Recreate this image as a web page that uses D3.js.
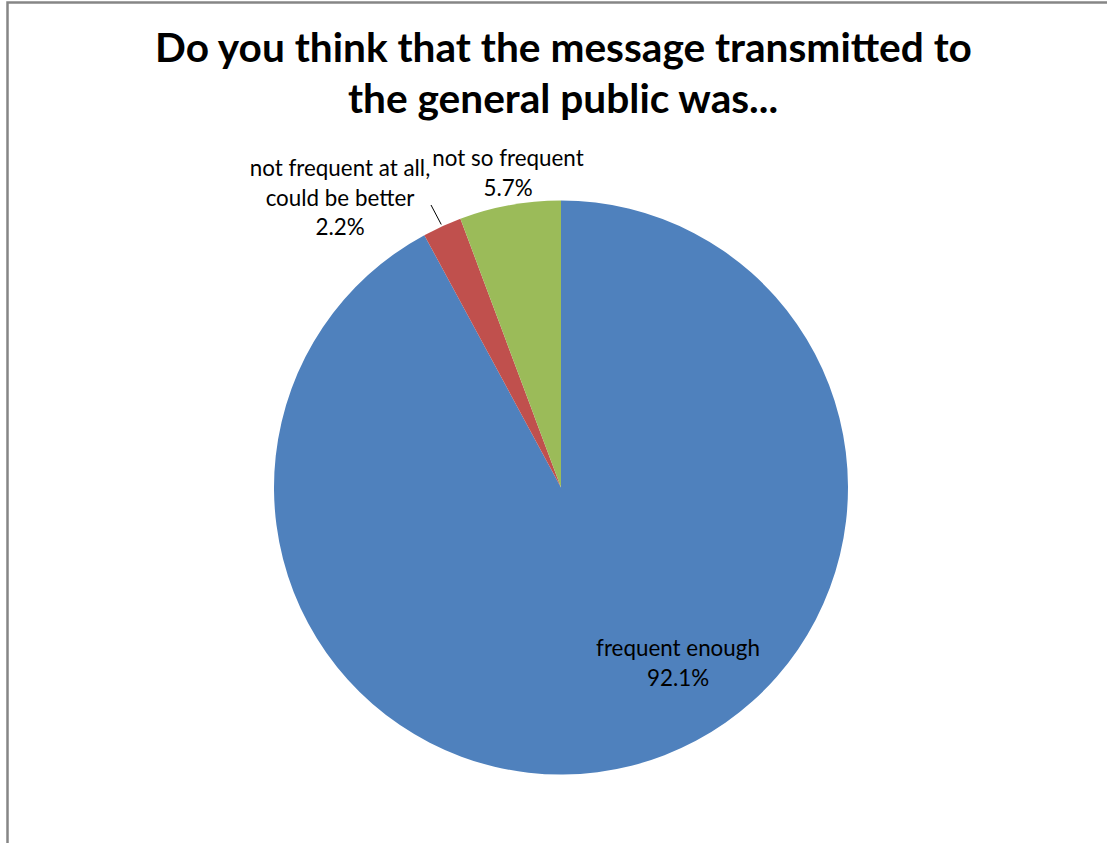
<!DOCTYPE html>
<html>
<head>
<meta charset="utf-8">
<script src="https://cdn.jsdelivr.net/npm/d3@7"></script>
<style>
  html, body { margin: 0; padding: 0; background: #fff; }
  svg { display: block; }
</style>
</head>
<body>
<svg id="chart" width="1107" height="843"></svg>
<script>
// ---- data ----
const titleLines = ["Do you think that the message transmitted to", "the general public was..."];
const categories = ["frequent enough", "not frequent at all, could be better", "not so frequent"];
const values = [92.1, 2.2, 5.7];
const colors = ["#4F81BD", "#C0504D", "#9BBB59"];
const labelLines = [
  ["frequent enough", "92.1%"],
  ["not frequent at all,", "could be better", "2.2%"],
  ["not so frequent", "5.7%"]
];

// ---- layout (not data) ----
const W = 1107, H = 843;
const cx = 561, cy = 487.5, R = 287;
const labelPos = [   // x center, first baseline
  {x: 678, y: 656},
  {x: 340, y: 176},
  {x: 508, y: 166}
];
const lineStep = 29.5;

const svg = d3.select("#chart");

// frame (left and top edges visible)
svg.append("path")
  .attr("d", `M7.5,${H + 5} L7.5,2.5 L${W + 5},2.5`)
  .attr("fill", "none")
  .attr("stroke", "#868686")
  .attr("stroke-width", 2.5);

// title
const titleG = svg.append("g");
const t1 = titleG.append("text")
  .attr("x", 563.5).attr("y", 62)
  .attr("text-anchor", "middle")
  .style("font-family", "Lato, 'Open Sans', sans-serif")
  .style("font-weight", "bold")
  .style("font-size", "36px")
  .attr("fill", "#000")
  .text(titleLines[0]);
// fit font size so first line spans reference width
const w1 = t1.node().getComputedTextLength();
const titleSize = 36 * 817 / w1;
t1.style("font-size", titleSize + "px");
titleG.append("text")
  .attr("x", 563).attr("y", 113)
  .attr("text-anchor", "middle")
  .style("font-family", "Lato, 'Open Sans', sans-serif")
  .style("font-weight", "bold")
  .style("font-size", titleSize + "px")
  .attr("fill", "#000")
  .text(titleLines[1]);

// pie
const pie = d3.pie().sort(null).value(d => d)(values);
const arc = d3.arc().innerRadius(0).outerRadius(R);
const g = svg.append("g").attr("transform", `translate(${cx},${cy})`);
g.selectAll("path.slice")
  .data(pie)
  .join("path")
  .attr("class", "slice")
  .attr("d", arc)
  .attr("fill", (d, i) => colors[i]);

// leader line for the small red slice (from label to slice edge)
const redMid = (pie[1].startAngle + pie[1].endAngle) / 2;
const edgeR = R + 2;
const ex = cx + edgeR * Math.sin(redMid), ey = cy - edgeR * Math.cos(redMid);
svg.append("line")
  .attr("x1", 431).attr("y1", 205)
  .attr("x2", ex).attr("y2", ey)
  .attr("stroke", "#000")
  .attr("stroke-width", 1);

// labels
const probe = svg.append("text")
  .style("font-family", "Lato, 'Open Sans', sans-serif")
  .style("font-size", "20px")
  .text("frequent enough");
const labelSize = 20 * 164 / probe.node().getComputedTextLength();
probe.remove();

labelLines.forEach((lines, i) => {
  const t = svg.append("text")
    .attr("text-anchor", "middle")
    .style("font-family", "Lato, 'Open Sans', sans-serif")
    .style("font-size", labelSize + "px")
    .attr("fill", "#000");
  lines.forEach((ln, j) => {
    t.append("tspan")
      .attr("x", labelPos[i].x)
      .attr("y", labelPos[i].y + j * lineStep)
      .text(ln);
  });
});
</script>
</body>
</html>
